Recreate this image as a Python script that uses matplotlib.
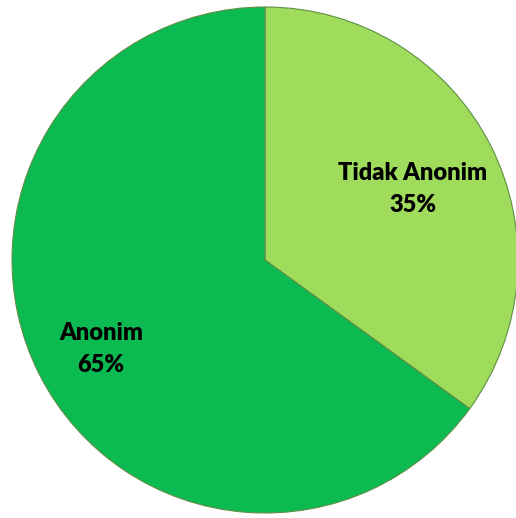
import matplotlib
matplotlib.use("Agg")
import matplotlib.pyplot as plt

labels = ["Tidak Anonim", "Anonim"]
values = [35, 65]
colors = ["#9fdc5b", "#0bbb52"]

W, H = 516, 518
cx, cy, R = 265, 260, 253

fig = plt.figure(figsize=(W / 100, H / 100), dpi=100)
ax = fig.add_axes([0, 0, 1, 1])

wedges, _ = ax.pie(values, colors=colors, startangle=90, counterclock=False,
                   radius=1.0, center=(0, 0), frame=True,
                   wedgeprops=dict(edgecolor="#5f8f45", linewidth=0.8))
ax.set_xlim(-cx / R, (W - cx) / R)
ax.set_ylim(-(H - cy) / R, cy / R)
ax.set_aspect("equal")
ax.axis("off")

def px(x, y):
    return ((x - cx) / R, (cy - y) / R)

label_px = [(413, 189), (101, 349)]
for lab, v, (x, y) in zip(labels, values, label_px):
    dx, dy = px(x, y)
    ax.text(dx, dy, f"{lab}\n{v}%", ha="center", va="center",
            fontsize=17, fontweight="heavy", family="Lato",
            linespacing=1.5, color="black")

fig.savefig("out.png", dpi=100)
